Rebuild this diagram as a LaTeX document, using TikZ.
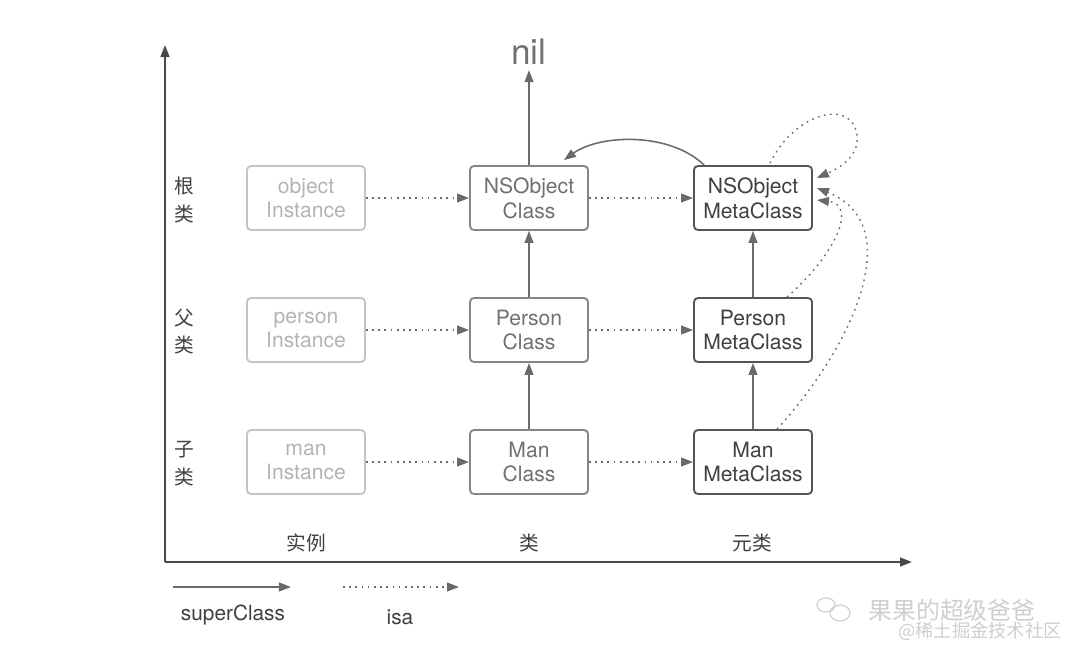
\documentclass[tikz,border=0pt]{standalone}
\usepackage{fontspec}
\setmainfont{TeX Gyre Heros}
\newfontfamily\cjk{Noto Sans CJK SC}
\usetikzlibrary{arrows.meta,calc}
\definecolor{instc}{HTML}{C4C4C4}
\definecolor{instt}{HTML}{B4B4B4}
\definecolor{clsc}{HTML}{858585}
\definecolor{clst}{HTML}{707070}
\definecolor{metac}{HTML}{555555}
\definecolor{metat}{HTML}{404040}
\definecolor{arr}{HTML}{6A6A6A}
\definecolor{axc}{HTML}{4A4A4A}
\definecolor{wm}{HTML}{CFCFCF}
\tikzset{
  box/.style={rounded corners=0.1cm, minimum width=2.95cm, minimum height=1.6cm,
    line width=1.3pt, align=center, font=\fontsize{15}{17.5}\selectfont, inner sep=0pt},
  instbox/.style={box, draw=instc, text=instt},
  clsbox/.style={box, draw=clsc, text=clst},
  metabox/.style={box, draw=metac, text=metat},
  tip/.style={-{Triangle[length=0.3cm,width=0.22cm]}},
  superarr/.style={tip, draw=arr, line width=1.1pt, arr},
  isaarr/.style={tip, draw=arr, line width=1pt, dash pattern=on 1.2pt off 3.2pt, arr},
  axis/.style={-{Triangle[length=0.3cm,width=0.22cm]}, draw=axc, fill=axc, line width=1.4pt},
  cjklabel/.style={font=\cjk\fontsize{14}{16}\selectfont, text=metat, inner sep=0pt},
  legendlabel/.style={font=\fontsize{14.8}{17}\selectfont, text=metat, inner sep=0pt}
}
\begin{document}
\begin{tikzpicture}[x=0.025cm, y=-0.025cm]
\useasboundingbox (0,0) rectangle (1080,660);
\fill[white] (0,0) rectangle (1080,660);

% axes
\coordinate (o) at (165,562);
\coordinate (ytop) at (165,45);
\coordinate (xend) at (912,562);
\draw[axis] (o) -- (ytop);
\draw[axis] (o) -- (xend);

% boxes
\node[instbox] (oi) at (306,198) {object\\Instance};
\node[clsbox]  (oc) at (529,198) {NSObject\\Class};
\node[metabox] (om) at (753,198) {NSObject\\MetaClass};
\node[instbox] (pi) at (306,330) {person\\Instance};
\node[clsbox]  (pc) at (529,330) {Person\\Class};
\node[metabox] (pm) at (753,330) {Person\\MetaClass};
\node[instbox] (mi) at (306,462) {man\\Instance};
\node[clsbox]  (mc) at (529,462) {Man\\Class};
\node[metabox] (mm) at (753,462) {Man\\MetaClass};

\node[font=\fontsize{25}{28}\selectfont, text=clst, inner sep=0pt] (nil) at (529,52) {nil};

% row labels
\node[cjklabel] (r1a) at (184,186) {根};
\node[cjklabel] (r1b) at (184,214) {类};
\node[cjklabel] (r2a) at (184,318) {父};
\node[cjklabel] (r2b) at (184,345) {类};
\node[cjklabel] (r3a) at (184,450) {子};
\node[cjklabel] (r3b) at (184,477) {类};
% column labels
\node[cjklabel] (c1) at (306,543) {实例};
\node[cjklabel] (c2) at (529,543) {类};
\node[cjklabel] (c3) at (752,543) {元类};

% isa arrows
\draw[isaarr] (oi.east) -- (oc.west);
\draw[isaarr] (pi.east) -- (pc.west);
\draw[isaarr] (mi.east) -- (mc.west);
\draw[isaarr] (oc.east) -- (om.west);
\draw[isaarr] (pc.east) -- (pm.west);
\draw[isaarr] (mc.east) -- (mm.west);

% superclass arrows
\draw[superarr] (mc.north) -- (pc.south);
\draw[superarr] (pc.north) -- (oc.south);
\draw[superarr] (oc.north) -- ($(nil.south)+(0,5)$);
\draw[superarr] (mm.north) -- (pm.south);
\draw[superarr] (pm.north) -- (om.south);
\draw[superarr] ($(om.north west)+(11,0)$) .. controls (670,132) and (600,134) .. ($(oc.north east)+(-25,-5)$);

% metaclass isa loops
\draw[isaarr] ($(om.north)+(17,-2)$) .. controls (795,112) and (852,98) .. (857,135)
   .. controls (860,158) and (835,170) .. ($(om.east)+(4,-20)$);
\draw[isaarr] ($(pm.north)+(34,0)$) .. controls (835,255) and (858,205) .. ($(om.east)+(4,2)$);
\draw[isaarr] ($(mm.north)+(24,0)$) .. controls (850,350) and (910,225) .. ($(om.east)+(4,-10)$);

% legend
\coordinate (l1a) at (173,587);
\coordinate (l1b) at (291,587);
\coordinate (l2a) at (343,587);
\coordinate (l2b) at (459,587);
\draw[superarr] (l1a) -- (l1b);
\draw[isaarr] (l2a) -- (l2b);
\node[legendlabel] (lsc) at (233,615) {superClass};
\node[legendlabel] (lisa) at (400,617) {isa};

% watermark
\node[font=\cjk\fontsize{17}{20}\selectfont, text=wm, inner sep=0pt] (wm1) at (952,610) {果果的超级爸爸};
\node[font=\cjk\fontsize{13}{15}\selectfont, text=wm, inner sep=0pt] (wm2) at (980,631) {@稀土掘金技术社区};
\draw[wm, line width=0.8pt] (826,605) ellipse (9 and 7);
\draw[wm, line width=0.8pt] (840,613) ellipse (10 and 8);
\end{tikzpicture}
\end{document}
